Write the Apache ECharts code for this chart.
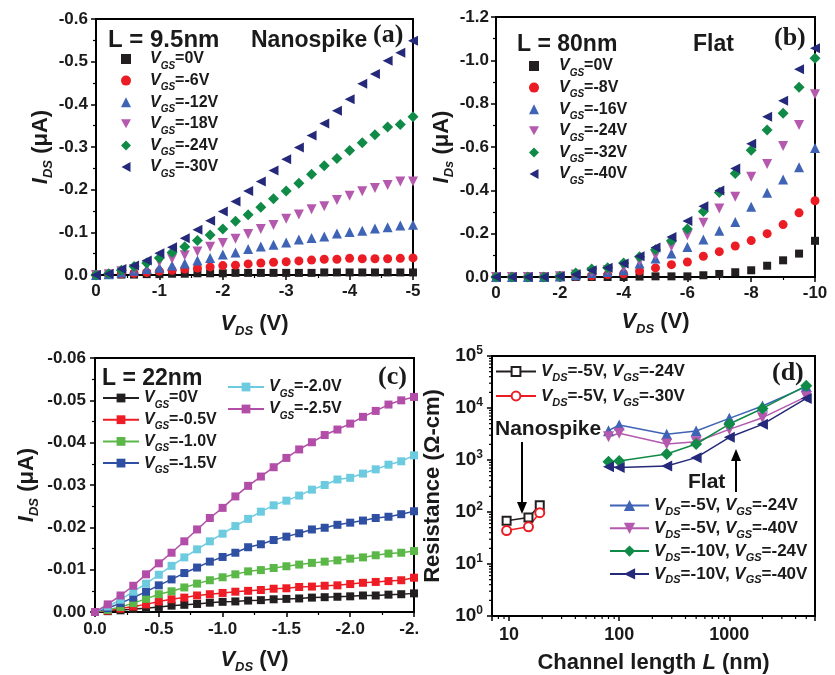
<!DOCTYPE html>
<html><head><meta charset="utf-8">
<script src="https://cdn.jsdelivr.net/npm/echarts@6.0.0/dist/echarts.min.js"></script>
<style>html,body{margin:0;padding:0;background:#fff;}#c{width:835px;height:675px;}</style>
</head><body><div id="c"></div>
<script>
// ---------- Panel (a): L = 9.5nm nanospike ----------
const vdsA = [0,-0.2,-0.4,-0.6,-0.8,-1,-1.2,-1.4,-1.6,-1.8,-2,-2.2,-2.4,-2.6,-2.8,-3,-3.2,-3.4,-3.6,-3.8,-4,-4.2,-4.4,-4.6,-4.8,-5];
const labelsA = ['=0V','=-6V','=-12V','=-18V','=-24V','=-30V'];
const idsA0  = [0,0,-0.001,-0.001,-0.002,-0.002,-0.003,-0.003,-0.004,-0.004,-0.004,-0.005,-0.005,-0.005,-0.005,-0.005,-0.005,-0.005,-0.006,-0.006,-0.006,-0.006,-0.006,-0.006,-0.006,-0.006];
const idsA6  = [0,-0.001,-0.003,-0.004,-0.006,-0.009,-0.011,-0.014,-0.016,-0.019,-0.022,-0.023,-0.026,-0.028,-0.030,-0.031,-0.033,-0.035,-0.037,-0.037,-0.039,-0.038,-0.038,-0.038,-0.039,-0.040];
const idsA12 = [0,-0.002,-0.006,-0.010,-0.014,-0.017,-0.022,-0.027,-0.034,-0.040,-0.048,-0.053,-0.061,-0.067,-0.071,-0.076,-0.083,-0.087,-0.090,-0.097,-0.101,-0.104,-0.109,-0.112,-0.116,-0.118];
const idsA18 = [0,-0.002,-0.009,-0.014,-0.023,-0.031,-0.038,-0.046,-0.055,-0.066,-0.075,-0.085,-0.096,-0.108,-0.117,-0.132,-0.142,-0.154,-0.161,-0.176,-0.186,-0.196,-0.204,-0.211,-0.219,-0.219];
const idsA24 = [0,-0.003,-0.011,-0.020,-0.028,-0.040,-0.053,-0.066,-0.081,-0.094,-0.108,-0.126,-0.141,-0.159,-0.179,-0.197,-0.215,-0.236,-0.256,-0.273,-0.292,-0.310,-0.329,-0.347,-0.353,-0.371];
const idsA30 = [0,-0.003,-0.014,-0.022,-0.034,-0.051,-0.065,-0.086,-0.106,-0.127,-0.149,-0.172,-0.197,-0.219,-0.245,-0.271,-0.299,-0.327,-0.355,-0.385,-0.412,-0.448,-0.471,-0.502,-0.521,-0.549];

// ---------- Panel (b): L = 80nm flat ----------
const vdsB = [0,-0.5,-1,-1.5,-2,-2.5,-3,-3.5,-4,-4.5,-5,-5.5,-6,-6.5,-7,-7.5,-8,-8.5,-9,-9.5,-10];
const labelsB = ['=0V','=-8V','=-16V','=-24V','=-32V','=-40V'];
const idsB0  = [0,0,0,0,0,0,0,0,0,-0.002,-0.003,-0.003,-0.003,-0.008,-0.014,-0.022,-0.031,-0.052,-0.077,-0.108,-0.167];
const idsB8  = [0,0,0,0,0,-0.004,-0.006,-0.011,-0.015,-0.028,-0.042,-0.057,-0.069,-0.096,-0.117,-0.143,-0.168,-0.200,-0.242,-0.296,-0.352];
const idsB16 = [0,0,0,0,-0.002,-0.008,-0.018,-0.023,-0.031,-0.062,-0.085,-0.108,-0.139,-0.173,-0.213,-0.254,-0.324,-0.389,-0.450,-0.506,-0.595];
const idsB24 = [0,0,0,0,-0.003,-0.012,-0.023,-0.031,-0.046,-0.074,-0.100,-0.142,-0.193,-0.250,-0.316,-0.370,-0.463,-0.521,-0.605,-0.702,-0.844];
const idsB32 = [0,0,0,0,-0.003,-0.018,-0.037,-0.043,-0.065,-0.093,-0.126,-0.167,-0.222,-0.302,-0.390,-0.478,-0.585,-0.679,-0.756,-0.876,-1.010];
const idsB40 = [0,0,0,0,-0.003,-0.012,-0.031,-0.043,-0.062,-0.096,-0.136,-0.185,-0.259,-0.327,-0.399,-0.501,-0.615,-0.740,-0.813,-0.959,-1.056];

// ---------- Panel (c): L = 22nm ----------
const vdsC = [0,-0.1,-0.2,-0.3,-0.4,-0.5,-0.6,-0.7,-0.8,-0.9,-1,-1.1,-1.2,-1.3,-1.4,-1.5,-1.6,-1.7,-1.8,-1.9,-2,-2.1,-2.2,-2.3,-2.4,-2.5];
const labelsC = ['=0V','=-0.5V','=-1.0V','=-1.5V','=-2.0V','=-2.5V'];
const idsC00 = [0,-0.0002,-0.0004,-0.0007,-0.0009,-0.0012,-0.0015,-0.0017,-0.0019,-0.0022,-0.0024,-0.0025,-0.0027,-0.0028,-0.0030,-0.0031,-0.0032,-0.0034,-0.0035,-0.0036,-0.0037,-0.0039,-0.0039,-0.0041,-0.0042,-0.0044];
const idsC05 = [0,-0.0003,-0.0008,-0.0013,-0.0018,-0.0025,-0.0030,-0.0034,-0.0039,-0.0042,-0.0045,-0.0048,-0.0050,-0.0052,-0.0055,-0.0056,-0.0059,-0.0060,-0.0062,-0.0063,-0.0066,-0.0069,-0.0071,-0.0073,-0.0075,-0.0081];
const idsC10 = [0,-0.0005,-0.0012,-0.0021,-0.0031,-0.0042,-0.0049,-0.0058,-0.0067,-0.0075,-0.0082,-0.0089,-0.0096,-0.0099,-0.0104,-0.0108,-0.0112,-0.0116,-0.0119,-0.0122,-0.0126,-0.0129,-0.0134,-0.0138,-0.0140,-0.0144];
const idsC15 = [0,-0.0009,-0.0021,-0.0034,-0.0048,-0.0063,-0.0077,-0.0092,-0.0105,-0.0119,-0.0130,-0.0140,-0.0153,-0.0160,-0.0170,-0.0178,-0.0186,-0.0195,-0.0199,-0.0206,-0.0211,-0.0216,-0.0222,-0.0225,-0.0231,-0.0238];
const idsC20 = [0,-0.0013,-0.0029,-0.0048,-0.0067,-0.0088,-0.0109,-0.0129,-0.0148,-0.0167,-0.0185,-0.0203,-0.0220,-0.0237,-0.0252,-0.0263,-0.0275,-0.0289,-0.0300,-0.0313,-0.0317,-0.0327,-0.0337,-0.0348,-0.0356,-0.0370];
const idsC25 = [0,-0.0018,-0.0039,-0.0062,-0.0089,-0.0115,-0.0140,-0.0167,-0.0195,-0.0222,-0.0246,-0.0273,-0.0298,-0.0320,-0.0342,-0.0364,-0.0384,-0.0401,-0.0418,-0.0431,-0.0445,-0.0461,-0.0475,-0.0490,-0.0500,-0.0508];

// ---------- Panel (d): resistance vs channel length ----------
const lenNano = [9.5, 15, 19];
const resNano24 = [68, 78, 135];
const resNano30 = [44, 52, 97];
const lenFlat = [80, 100, 270, 500, 1000, 2000, 5000];
const resFlat5_24  = [3660, 4710, 3120, 3610, 6320, 10900, 25800];
const resFlat5_40  = [2810, 3260, 2030, 2250, 3880, 6510, 16500];
const resFlat10_24 = [929, 956, 1300, 2030, 4920, 9800, 26900];
const resFlat10_40 = [745, 720, 767, 1110, 2730, 4850, 15300];
const minorTicksX = [8,9,20,30,40,50,60,70,80,90,200,300,400,500,600,700,800,900,2000,3000,4000,5000];
const minorTicksY = [2,3,4,5,6,7,8,9,20,30,40,50,60,70,80,90,200,300,400,500,600,700,800,900,2000,3000,4000,5000,6000,7000,8000,9000,20000,30000,40000,50000,60000,70000,80000,90000];

// ---------- styles ----------
const F = "'Liberation Sans', Arial, Helvetica, sans-serif";
const FS = "'Liberation Serif', 'Times New Roman', serif";
const TXT = '#1a1a1a';
const BLK = '#231f20', RED = '#ec1c24', BLU = '#3f63b5', MAG = '#b459ad', GRN = '#0f8a47', NAV = '#25297a';
const DOWN_TRI = 'path://M0,0L10,0L5,9Z';
const LEFT_TRI = 'path://M9,0L9,10L0,5Z';
const iconsIV = ['rect', 'circle', 'triangle', DOWN_TRI, 'diamond', LEFT_TRI];

function legendRich(size, sub, lh, pad) {
  return {
    v0: {fontFamily: F, fontStyle: 'italic', fontWeight: 'bold', fontSize: size, lineHeight: lh, color: TXT, padding: [0, 0, 0, pad]},
    v:  {fontFamily: F, fontStyle: 'italic', fontWeight: 'bold', fontSize: size, lineHeight: lh, color: TXT},
    s:  {fontFamily: F, fontStyle: 'italic', fontWeight: 'bold', fontSize: sub, lineHeight: sub, verticalAlign: 'bottom', color: TXT},
    t:  {fontFamily: F, fontWeight: 'bold', fontSize: size, lineHeight: lh, color: TXT}
  };
}
const nameRich = {
  i: {fontFamily: F, fontStyle: 'italic', fontWeight: 'bold', fontSize: 22, lineHeight: 28, color: TXT},
  s: {fontFamily: F, fontStyle: 'italic', fontWeight: 'bold', fontSize: 13, lineHeight: 13, verticalAlign: 'bottom', color: TXT},
  n: {fontFamily: F, fontWeight: 'bold', fontSize: 22, lineHeight: 28, color: TXT}
};
const labelStyle = {color: TXT, fontFamily: F, fontWeight: 'bold', fontSize: 17};
const axisLine = {show: true, onZero: false, lineStyle: {color: '#000', width: 2}};
const axisTick = {show: true, length: 5, lineStyle: {color: '#000', width: 1.5}};
const minorTick = {show: true, splitNumber: 2, length: 3, lineStyle: {color: '#000', width: 1.2}};

function valAxis(gi, min, max, interval, digits, name, gap, margin) {
  return {
    gridIndex: gi, type: 'value', min: min, max: max, interval: interval, inverse: true,
    axisLine: axisLine, axisTick: axisTick, minorTick: minorTick, splitLine: {show: false},
    axisLabel: Object.assign({margin: margin, formatter: v => (Math.abs(v) < 1e-12 ? 0 : v).toFixed(digits)}, labelStyle),
    name: name, nameLocation: 'middle', nameGap: gap, nameTextStyle: {rich: nameRich}
  };
}

function zip(xs, ys) { return xs.map((x, i) => [x, ys[i]]); }
function sc(gi, name, xs, ys, symbol, size, rot, color) {
  return {type: 'scatter', name: name, xAxisIndex: gi, yAxisIndex: gi, data: zip(xs, ys),
    symbol: symbol, symbolSize: size, symbolRotate: rot, itemStyle: {color: color, opacity: 1}, silent: true};
}
function ln(gi, name, xs, ys, symbol, size, rot, color, lw) {
  return {type: 'line', name: name, xAxisIndex: gi, yAxisIndex: gi, data: zip(xs, ys),
    symbol: symbol, symbolSize: size, symbolRotate: rot, showAllSymbol: true,
    lineStyle: {color: color, width: lw}, itemStyle: {color: color, borderWidth: 1.5}, silent: true};
}

const namesA = labelsA.map(l => 'a' + l);
const namesB = labelsB.map(l => 'b' + l);
const namesC = labelsC.map(l => 'c' + l);
const gsFmt = name => '{v0|V}{s|GS}{t|' + name.slice(1) + '}';
const dNames = ['-5V:-24V:n', '-5V:-30V:n', '-5V:-24V:f', '-5V:-40V:f', '-10V:-24V:f', '-10V:-40V:f'];
const dsFmt = name => { const p = name.split(':'); return '{v0|V}{s|DS}{t|=' + p[0] + ', }{v|V}{s|GS}{t|=' + p[1] + '}'; };

const series = [
  sc(0, namesA[0], vdsA, idsA0, 'rect', 8, 0, BLK),
  sc(0, namesA[1], vdsA, idsA6, 'circle', 9, 0, RED),
  sc(0, namesA[2], vdsA, idsA12, 'triangle', 10, 0, BLU),
  sc(0, namesA[3], vdsA, idsA18, 'triangle', 10, 180, MAG),
  sc(0, namesA[4], vdsA, idsA24, 'diamond', 11, 0, GRN),
  sc(0, namesA[5], vdsA, idsA30, 'triangle', 10, 90, NAV),
  sc(1, namesB[0], vdsB, idsB0, 'rect', 8, 0, BLK),
  sc(1, namesB[1], vdsB, idsB8, 'circle', 9, 0, RED),
  sc(1, namesB[2], vdsB, idsB16, 'triangle', 10, 0, BLU),
  sc(1, namesB[3], vdsB, idsB24, 'triangle', 10, 180, MAG),
  sc(1, namesB[4], vdsB, idsB32, 'diamond', 11, 0, GRN),
  sc(1, namesB[5], vdsB, idsB40, 'triangle', 10, 90, NAV),
  ln(2, namesC[0], vdsC, idsC00, 'rect', 8, 0, BLK, 1.5),
  ln(2, namesC[1], vdsC, idsC05, 'rect', 8, 0, '#ee1d25', 1.5),
  ln(2, namesC[2], vdsC, idsC10, 'rect', 8, 0, '#5bb848', 1.5),
  ln(2, namesC[3], vdsC, idsC15, 'rect', 8, 0, '#2f4fa2', 1.5),
  ln(2, namesC[4], vdsC, idsC20, 'rect', 8, 0, '#6dcbe0', 1.5),
  ln(2, namesC[5], vdsC, idsC25, 'rect', 8, 0, '#b24ea8', 1.5),
  ln(3, dNames[0], lenNano, resNano24, 'emptyRect', 8, 0, BLK, 1.5),
  ln(3, dNames[1], lenNano, resNano30, 'emptyCircle', 9, 0, RED, 1.5),
  ln(3, dNames[2], lenFlat, resFlat5_24, 'triangle', 11, 0, BLU, 1.5),
  ln(3, dNames[3], lenFlat, resFlat5_40, 'triangle', 11, 180, MAG, 1.5),
  ln(3, dNames[4], lenFlat, resFlat10_24, 'diamond', 12, 0, GRN, 1.5),
  ln(3, dNames[5], lenFlat, resFlat10_40, 'triangle', 11, 90, NAV, 1.5),
  {type: 'custom', xAxisIndex: 3, yAxisIndex: 3, silent: true, clip: false, z: 5,
   data: minorTicksX.map(v => [v, 1]),
   renderItem: (p, api) => { const c = api.coord([api.value(0), 1]);
     return {type: 'line', shape: {x1: c[0], y1: c[1], x2: c[0], y2: c[1] + 3}, style: {stroke: '#000', lineWidth: 1.2}}; }},
  {type: 'custom', xAxisIndex: 3, yAxisIndex: 3, silent: true, clip: false, z: 5,
   data: minorTicksY.map(v => [7, v]),
   renderItem: (p, api) => { const c = api.coord([7, api.value(1)]);
     return {type: 'line', shape: {x1: c[0] - 3, y1: c[1], x2: c[0], y2: c[1]}, style: {stroke: '#000', lineWidth: 1.2}}; }}
];

function leg(left, top, names, iw, ih, gap, fmt, rich, icons) {
  const data = icons ? names.map((n, i) => ({name: n, icon: icons[i]})) : names;
  return {left: left, top: top, orient: 'vertical', padding: 0, itemWidth: iw, itemHeight: ih, itemGap: gap,
    selectedMode: false, data: data, formatter: fmt, textStyle: {rich: rich}};
}

const txt = (x, y, text, size, family) => ({type: 'text', x: x, y: y, z: 100,
  style: {text: text, fill: TXT, fontFamily: family || F, fontWeight: 'bold', fontSize: size, align: 'left', verticalAlign: 'middle'}});

const option = {
  animation: false,
  backgroundColor: '#fff',
  grid: [
    {left: 96, top: 19, width: 317, height: 256, show: true, borderColor: '#000', borderWidth: 2},
    {left: 496, top: 17, width: 319, height: 260, show: true, borderColor: '#000', borderWidth: 2},
    {left: 95, top: 358, width: 319, height: 259, show: true, borderColor: '#000', borderWidth: 2},
    {left: 492, top: 356, width: 323, height: 260, show: true, borderColor: '#000', borderWidth: 2}
  ],
  xAxis: [
    valAxis(0, -5, 0, 1, 0, '{i|V}{s|DS}{n| (V)}', 35, 8),
    valAxis(1, -10, 0, 2, 0, '{i|V}{s|DS}{n| (V)}', 31, 8),
    valAxis(2, -2.5, 0, 0.5, 1, '{i|V}{s|DS}{n| (V)}', 34, 9),
    {gridIndex: 3, type: 'log', logBase: 10, min: 7, max: 6000,
     axisLine: axisLine, axisTick: axisTick, splitLine: {show: false},
     axisLabel: Object.assign({}, labelStyle, {margin: 10, fontSize: 18, formatter: v => ([10, 100, 1000].indexOf(Math.round(v)) >= 0 ? String(Math.round(v)) : '')}),
     name: '{n|Channel length }{i|L}{n| (nm)}', nameLocation: 'middle', nameGap: 33, nameTextStyle: {rich: nameRich}}
  ],
  yAxis: [
    valAxis(0, -0.6, 0, 0.1, 1, '{i|I}{s|DS}{n| (μA)}', 41, 8),
    valAxis(1, -1.2, 0, 0.2, 1, '{i|I}{s|Ds}{n| (μA)}', 40, 7),
    valAxis(2, -0.06, 0, 0.01, 2, '{i|I}{s|DS}{n| (μA)}', 54, 9),
    {gridIndex: 3, type: 'log', logBase: 10, min: 1, max: 100000,
     axisLine: axisLine, axisTick: axisTick, splitLine: {show: false},
     axisLabel: {margin: 9, formatter: v => '{b|10}{p|' + Math.round(Math.log10(v)) + '}',
       rich: {b: {fontFamily: F, fontWeight: 'bold', fontSize: 19, lineHeight: 22, color: TXT},
              p: {fontFamily: F, fontWeight: 'bold', fontSize: 12, lineHeight: 12, verticalAlign: 'top', color: TXT}}},
     name: '{n|Resistance (Ω-cm)}', nameLocation: 'middle', nameGap: 45, nameTextStyle: {rich: nameRich}}
  ],
  legend: [
    leg(121, 51, namesA, 10, 10, 1.6, gsFmt, legendRich(16, 10, 24, 14), iconsIV),
    leg(529, 58, namesB, 10, 10, 1.6, gsFmt, legendRich(16, 10, 24, 15), iconsIV),
    leg(102, 390, namesC.slice(0, 4), 36, 11, 1.7, gsFmt, legendRich(16, 10, 24, 0)),
    leg(227, 379, namesC.slice(4), 36, 11, 2, gsFmt, legendRich(16, 10, 24, 0)),
    leg(495, 363, dNames.slice(0, 2), 40, 11, 4, dsFmt, legendRich(17, 11, 24, 0)),
    leg(609, 497, dNames.slice(2), 39, 14, 2.3, dsFmt, legendRich(17, 11, 24, 0))
  ],
  graphic: [
    txt(108, 40, 'L = 9.5nm', 24),
    txt(251, 41, 'Nanospike', 23),
    txt(373, 35, '(a)', 26, FS),
    txt(517, 45, 'L = 80nm', 23),
    txt(693, 45, 'Flat', 23),
    txt(774, 38, '(b)', 26, FS),
    txt(102, 379, 'L = 22nm', 23),
    txt(378, 377, '(c)', 26, FS),
    txt(772, 373, '(d)', 26, FS),
    txt(495, 429, 'Nanospike', 21),
    txt(688, 482, 'Flat', 21),
    {type: 'rect', z: 100, shape: {x: 420, y: 619, width: 14, height: 28}, style: {fill: '#fff'}},
    {type: 'line', z: 100, shape: {x1: 522, y1: 442, x2: 522, y2: 504}, style: {stroke: '#000', lineWidth: 2}},
    {type: 'polygon', z: 100, shape: {points: [[517, 502], [527, 502], [522, 514]]}, style: {fill: '#000'}},
    {type: 'line', z: 100, shape: {x1: 736, y1: 492, x2: 736, y2: 459}, style: {stroke: '#000', lineWidth: 2}},
    {type: 'polygon', z: 100, shape: {points: [[731, 461], [741, 461], [736, 449]]}, style: {fill: '#000'}}
  ],
  series: series
};
const chart = echarts.init(document.getElementById('c'), null, {renderer: 'canvas'});
chart.setOption(option);
</script></body></html>
